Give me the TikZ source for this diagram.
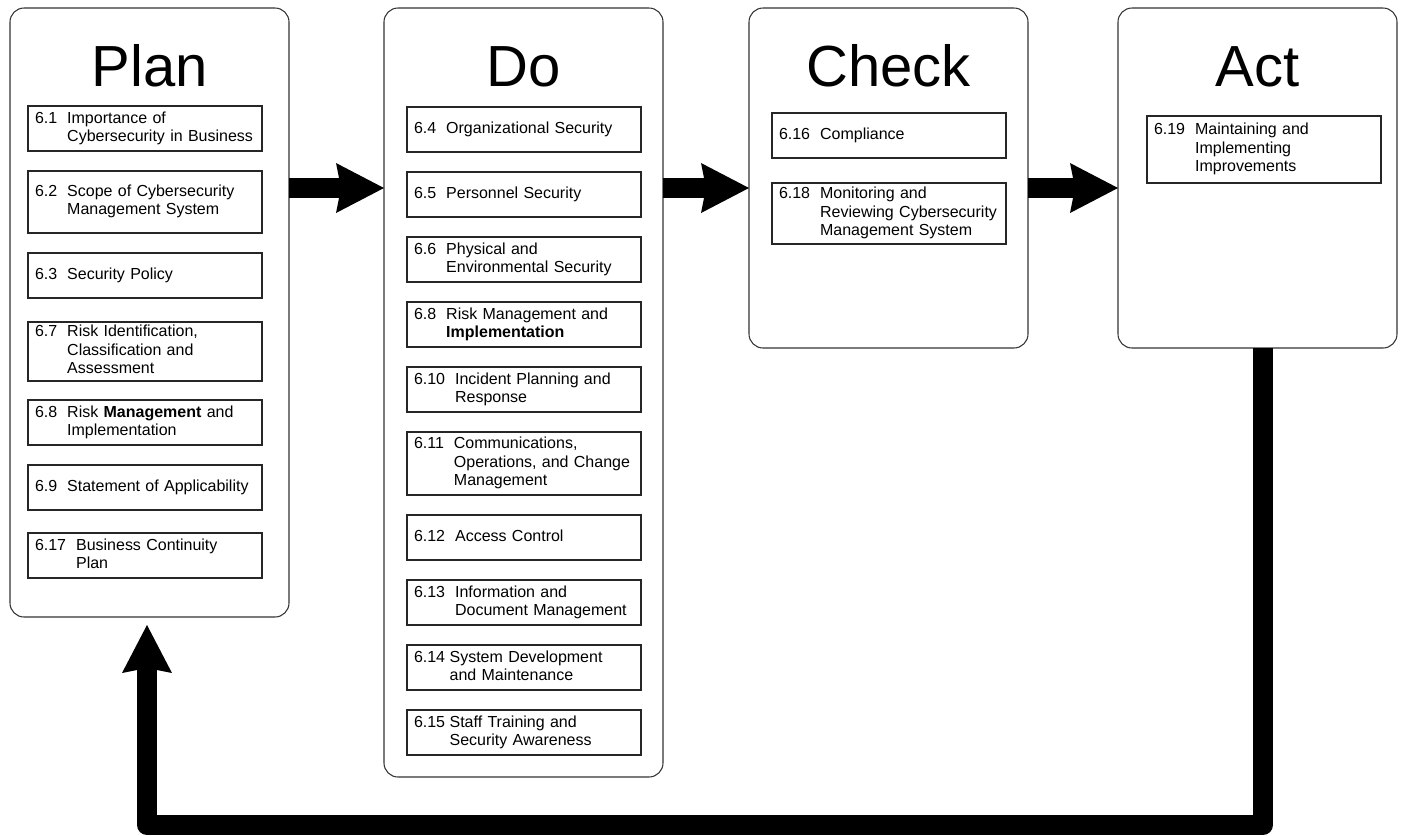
\documentclass[tikz,border=0pt]{standalone}
\usepackage{fontspec}
\setmainfont{Liberation Sans}
\usepackage{tikz}
\usetikzlibrary{arrows.meta,positioning}
\setlength{\parindent}{0pt}
\tikzset{
    phase/.style={rectangle, draw=black!80, line width=0.6pt, rounded corners=0.28cm, minimum width=5.58cm, inner sep=0pt, outer sep=0pt},
    phasetitle/.style={font=\fontsize{33}{40}\selectfont, anchor=base, inner sep=0pt},
    clausebox/.style={rectangle, draw=black!85, line width=0.6pt, text width=4.40cm, inner xsep=0.14cm, inner ysep=0pt, outer sep=0pt, minimum height=0.9cm, align=left, font=\fontsize{9.1}{10.4}\selectfont},
    flowarrow/.style={draw, line width=0.4cm, line join=round, -{Stealth[length=0.96cm, width=1.0cm, inset=0.1cm, line width=0pt]}}
}
\newcommand{\clause}[3][0.2cm]{\begin{tabular}[t]{@{}l@{\hspace{#1}}l@{}}#2 & \begin{tabular}[t]{@{}l@{}}#3\end{tabular}\end{tabular}}

\begin{document}
\begin{tikzpicture}[node distance=0.4cm]
    \useasboundingbox (0,0) rectangle (28.02,-16.70);

    \node[phase, minimum height=12.18cm, anchor=north west] (plan) at (0.2,-0.16) {};
    \node[phase, minimum height=15.38cm, right=1.9cm of plan.north east, anchor=north west] (do) {};
    \node[phase, minimum height=6.8cm, right=1.72cm of do.north east, anchor=north west] (check) {};
    \node[phase, minimum height=6.8cm, right=1.8cm of check.north east, anchor=north west] (act) {};

    \node[phasetitle] (plantitle) at ([yshift=-1.56cm]plan.north) {Plan};
    \node[phasetitle] (dotitle) at ([yshift=-1.56cm]do.north) {Do};
    \node[phasetitle] (checktitle) at ([yshift=-1.56cm]check.north) {Check};
    \node[phasetitle] (acttitle) at ([yshift=-1.56cm]act.north) {Act};

    \node[clausebox, anchor=north west] (p1) at ([xshift=0.36cm, yshift=-1.96cm]plan.north west) {\clause{6.1}{Importance of\\Cybersecurity in Business}};
    \node[clausebox, below=of p1, minimum height=1.24cm] (p2) {\clause{6.2}{Scope of Cybersecurity\\Management System}};
    \node[clausebox, below=of p2] (p3) {\clause{6.3}{Security Policy}};
    \node[clausebox, below=0.48cm of p3, minimum height=1.18cm] (p4) {\clause{6.7}{Risk Identification,\\Classification and\\Assessment}};
    \node[clausebox, below=0.38cm of p4] (p5) {\clause{6.8}{Risk \textbf{Management} and\\Implementation}};
    \node[clausebox, below=of p5] (p6) {\clause{6.9}{Statement of Applicability}};
    \node[clausebox, below=0.46cm of p6] (p7) {\clause{6.17}{Business Continuity\\Plan}};

    \node[clausebox, anchor=north west] (d1) at ([xshift=0.46cm, yshift=-1.98cm]do.north west) {\clause{6.4}{Organizational Security}};
    \node[clausebox, below=of d1] (d2) {\clause{6.5}{Personnel Security}};
    \node[clausebox, below=of d2] (d3) {\clause{6.6}{Physical and\\Environmental Security}};
    \node[clausebox, below=of d3] (d4) {\clause{6.8}{Risk Management and\\\textbf{Implementation}}};
    \node[clausebox, below=of d4] (d5) {\clause{6.10}{Incident Planning and\\Response}};
    \node[clausebox, below=of d5, minimum height=1.26cm] (d6) {\clause{6.11}{Communications,\\Operations, and Change\\Management}};
    \node[clausebox, below=of d6] (d7) {\clause{6.12}{Access Control}};
    \node[clausebox, below=of d7] (d8) {\clause{6.13}{Information and\\Document Management}};
    \node[clausebox, below=of d8] (d9) {\clause[0.09cm]{6.14}{System Development\\and Maintenance}};
    \node[clausebox, below=of d9] (d10) {\clause[0.09cm]{6.15}{Staff Training and\\Security Awareness}};

    \node[clausebox, anchor=north west] (c1) at ([xshift=0.46cm, yshift=-2.1cm]check.north west) {\clause{6.16}{Compliance}};
    \node[clausebox, below=0.5cm of c1, minimum height=1.22cm] (c2) {\clause{6.18}{Monitoring and\\Reviewing Cybersecurity\\Management System}};

    \node[clausebox, anchor=north west, minimum height=1.34cm] (a1) at ([xshift=0.58cm, yshift=-2.16cm]act.north west) {\clause{6.19}{Maintaining and\\Implementing\\Improvements}};

    \draw[flowarrow] ([yshift=-3.6cm]plan.north east) -- ([yshift=-3.6cm]do.north west);
    \draw[flowarrow] ([yshift=-3.6cm]do.north east) -- ([yshift=-3.6cm]check.north west);
    \draw[flowarrow] ([yshift=-3.6cm]check.north east) -- ([yshift=-3.6cm]act.north west);
    \draw[flowarrow] ([xshift=0.11cm]act.south) -- ++(0,-9.54cm) -| ([xshift=-0.05cm, yshift=-0.16cm]plan.south);
\end{tikzpicture}
\end{document}
